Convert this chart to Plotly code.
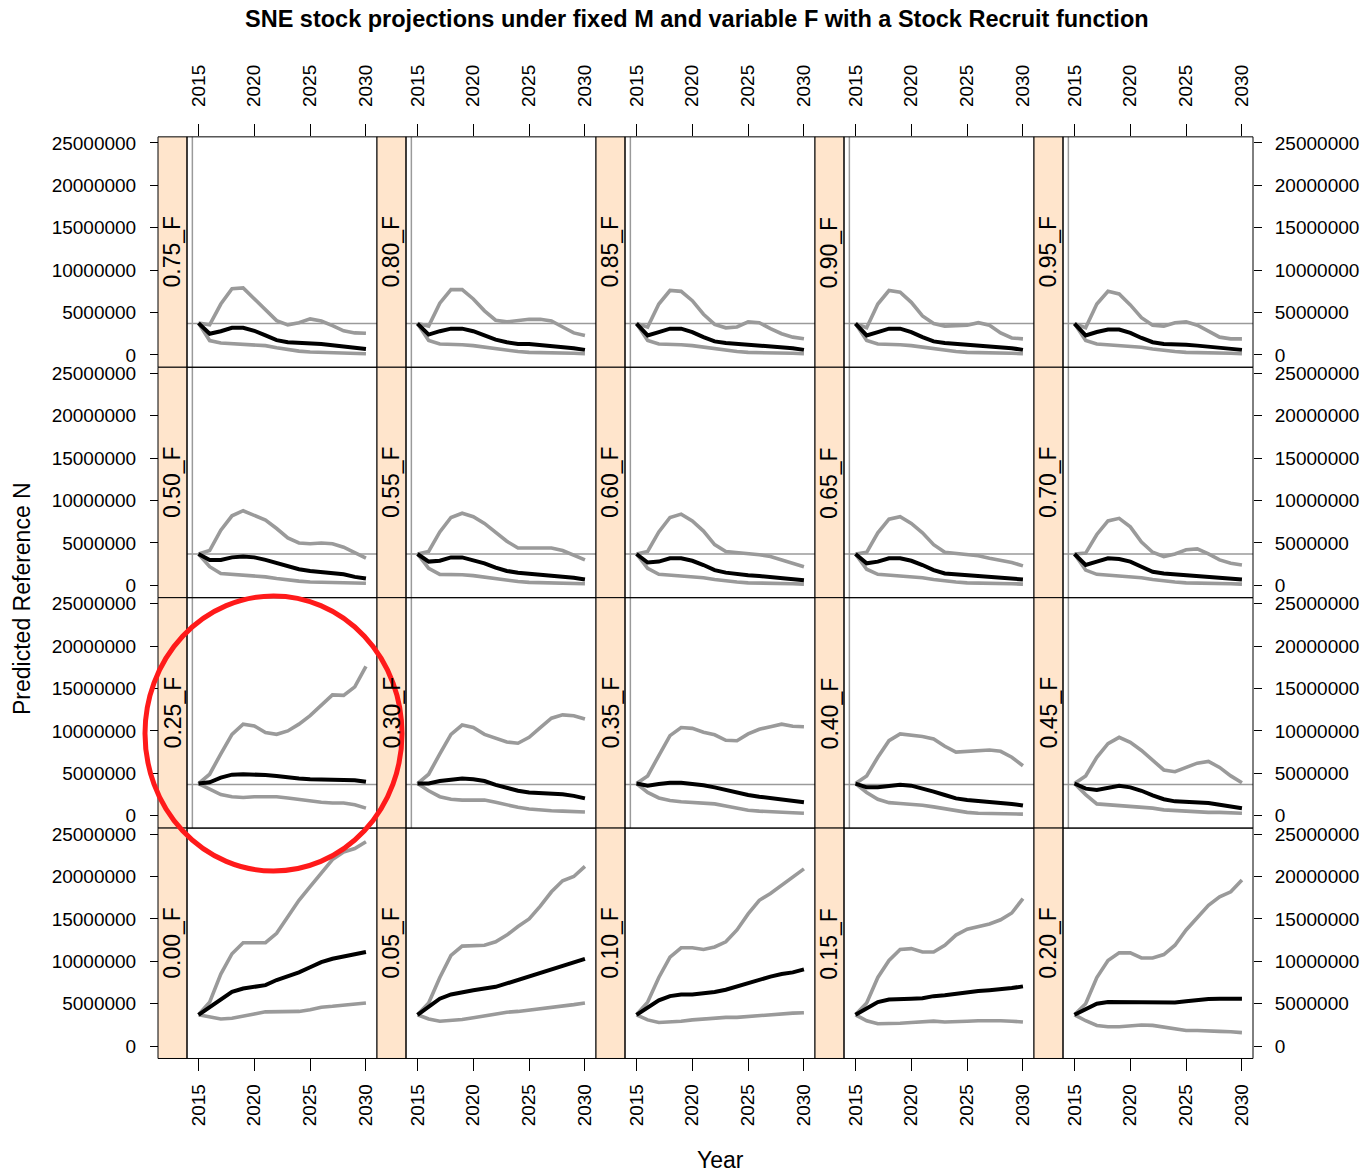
import plotly.graph_objects as go

# ---------------- data (values in millions of fish) ----------------
YEARS = list(range(2015, 2031))
SCALE = 1e6

# panel layout, top row first (lattice draws 0.00_F bottom-left)
ROW1 = ["0.75_F", "0.80_F", "0.85_F", "0.90_F", "0.95_F"]
ROW2 = ["0.50_F", "0.55_F", "0.60_F", "0.65_F", "0.70_F"]
ROW3 = ["0.25_F", "0.30_F", "0.35_F", "0.40_F", "0.45_F"]
ROW4 = ["0.00_F", "0.05_F", "0.10_F", "0.15_F", "0.20_F"]

MEDIAN = {
    "0.00_F": [3.7, 4.6, 5.6, 6.4, 6.8, 7.0, 7.2, 7.8, 8.2, 8.7, 9.3, 9.9, 10.3, 10.6, 10.8, 11.1],
    "0.05_F": [3.7, 4.7, 5.6, 6.1, 6.4, 6.6, 6.8, 7.0, 7.4, 7.8, 8.2, 8.6, 9.1, 9.5, 9.9, 10.3],
    "0.10_F": [3.7, 4.6, 5.4, 5.9, 6.1, 6.1, 6.2, 6.4, 6.65, 7.05, 7.45, 7.8, 8.2, 8.5, 8.7, 9.05],
    "0.15_F": [3.7, 4.5, 5.2, 5.5, 5.6, 5.6, 5.65, 5.9, 6.0, 6.2, 6.3, 6.5, 6.6, 6.7, 6.85, 7.05],
    "0.20_F": [3.7, 4.4, 5.0, 5.2, 5.2, 5.2, 5.15, 5.1, 5.1, 5.15, 5.3, 5.45, 5.55, 5.6, 5.6, 5.6],
    "0.25_F": [3.8, 3.95, 4.5, 4.85, 4.9, 4.9, 4.8, 4.7, 4.5, 4.4, 4.3, 4.25, 4.2, 4.2, 4.2, 4.0],
    "0.30_F": [3.8, 3.8, 4.1, 4.3, 4.4, 4.3, 4.1, 3.65, 3.25, 2.95, 2.75, 2.7, 2.65, 2.55, 2.35, 2.05],
    "0.35_F": [3.8, 3.55, 3.75, 3.9, 3.9, 3.8, 3.6, 3.35, 3.05, 2.7, 2.45, 2.25, 2.1, 1.95, 1.8, 1.6],
    "0.40_F": [3.8, 3.35, 3.35, 3.55, 3.65, 3.55, 3.25, 2.85, 2.45, 2.05, 1.85, 1.75, 1.7, 1.55, 1.4, 1.2],
    "0.45_F": [3.8, 3.2, 3.05, 3.35, 3.55, 3.35, 2.95, 2.4, 1.95, 1.7, 1.65, 1.6, 1.5, 1.3, 1.05, 0.9],
    "0.50_F": [3.7, 3.0, 3.0, 3.3, 3.4, 3.3, 3.0, 2.6, 2.2, 1.9, 1.7, 1.6, 1.5, 1.3, 1.0, 0.8],
    "0.55_F": [3.7, 2.8, 2.9, 3.3, 3.3, 3.0, 2.6, 2.1, 1.7, 1.5, 1.4, 1.3, 1.2, 1.0, 0.9, 0.7],
    "0.60_F": [3.7, 2.7, 2.8, 3.2, 3.2, 2.9, 2.4, 1.8, 1.5, 1.3, 1.2, 1.1, 1.0, 0.9, 0.8, 0.6],
    "0.65_F": [3.7, 2.6, 2.8, 3.2, 3.2, 2.9, 2.4, 1.8, 1.4, 1.3, 1.2, 1.1, 1.0, 0.9, 0.8, 0.7],
    "0.70_F": [3.7, 2.4, 2.8, 3.2, 3.1, 2.8, 2.2, 1.6, 1.4, 1.3, 1.3, 1.2, 1.1, 0.9, 0.8, 0.7],
    "0.75_F": [3.75, 2.5, 2.8, 3.2, 3.2, 2.85, 2.3, 1.75, 1.5, 1.45, 1.4, 1.3, 1.15, 1.0, 0.85, 0.7],
    "0.80_F": [3.7, 2.4, 2.8, 3.1, 3.1, 2.8, 2.3, 1.8, 1.5, 1.3, 1.3, 1.2, 1.1, 0.9, 0.8, 0.6],
    "0.85_F": [3.7, 2.3, 2.7, 3.1, 3.1, 2.7, 2.1, 1.6, 1.4, 1.3, 1.3, 1.2, 1.1, 0.9, 0.8, 0.6],
    "0.90_F": [3.7, 2.3, 2.7, 3.1, 3.1, 2.7, 2.1, 1.6, 1.4, 1.3, 1.3, 1.2, 1.1, 0.9, 0.8, 0.6],
    "0.95_F": [3.7, 2.3, 2.7, 3.0, 3.0, 2.6, 2.0, 1.5, 1.3, 1.3, 1.2, 1.1, 1.0, 0.9, 0.7, 0.6],
}

UPPER = {
    "0.00_F": [3.7, 5.2, 8.5, 10.9, 12.2, 12.2, 12.2, 13.3, 15.2, 17.2, 18.8, 20.4, 22.0, 22.9, 23.3, 24.1],
    "0.05_F": [3.7, 5.1, 8.1, 10.7, 11.8, 11.85, 11.9, 12.3, 13.1, 14.1, 15.0, 16.5, 18.2, 19.5, 20.0, 21.2],
    "0.10_F": [3.7, 5.2, 8.1, 10.5, 11.6, 11.6, 11.4, 11.7, 12.3, 13.7, 15.6, 17.2, 18.0, 19.0, 20.0, 20.9],
    "0.15_F": [3.7, 5.1, 8.1, 10.1, 11.4, 11.5, 11.1, 11.1, 11.9, 13.1, 13.8, 14.1, 14.4, 14.9, 15.7, 17.4],
    "0.20_F": [3.7, 5.0, 8.1, 10.1, 11.0, 11.0, 10.4, 10.4, 10.8, 11.9, 13.7, 15.2, 16.6, 17.6, 18.2, 19.6],
    "0.25_F": [3.8, 4.9, 7.3, 9.6, 10.8, 10.6, 9.8, 9.6, 10.0, 10.8, 11.8, 13.0, 14.25, 14.2, 15.2, 17.6],
    "0.30_F": [3.8, 4.9, 7.3, 9.6, 10.7, 10.4, 9.6, 9.1, 8.7, 8.55, 9.25, 10.4, 11.5, 11.9, 11.8, 11.4],
    "0.35_F": [3.8, 4.7, 7.1, 9.45, 10.4, 10.3, 9.85, 9.55, 8.9, 8.85, 9.65, 10.2, 10.5, 10.8, 10.55, 10.5],
    "0.40_F": [3.8, 4.7, 6.9, 8.85, 9.65, 9.55, 9.35, 9.05, 8.2, 7.5, 7.6, 7.75, 7.75, 7.6, 6.9, 5.9],
    "0.45_F": [3.8, 4.7, 6.9, 8.5, 9.25, 8.65, 7.7, 6.5, 5.4, 5.2, 5.7, 6.2, 6.4, 5.7, 4.7, 3.9],
    "0.50_F": [3.7, 4.1, 6.5, 8.2, 8.8, 8.3, 7.7, 6.7, 5.6, 5.0, 4.9, 5.0, 4.9, 4.5, 3.9, 3.2],
    "0.55_F": [3.7, 4.0, 6.3, 8.0, 8.5, 8.1, 7.3, 6.3, 5.2, 4.4, 4.4, 4.4, 4.4, 4.1, 3.6, 3.0],
    "0.60_F": [3.7, 4.0, 6.3, 8.0, 8.4, 7.6, 6.4, 4.8, 4.0, 3.9, 3.8, 3.6, 3.4, 3.0, 2.6, 2.2],
    "0.65_F": [3.7, 3.9, 6.2, 7.8, 8.1, 7.3, 6.2, 4.8, 3.9, 3.8, 3.7, 3.5, 3.2, 3.0, 2.7, 2.3],
    "0.70_F": [3.7, 3.8, 6.0, 7.6, 7.9, 6.9, 5.1, 3.9, 3.4, 3.7, 4.2, 4.3, 3.7, 3.0, 2.6, 2.4],
    "0.75_F": [3.75, 3.55, 6.0, 7.8, 7.9, 6.6, 5.25, 4.05, 3.55, 3.8, 4.25, 4.0, 3.45, 2.85, 2.6, 2.55],
    "0.80_F": [3.7, 3.4, 6.1, 7.7, 7.7, 6.6, 5.2, 4.1, 3.9, 4.1, 4.2, 4.2, 4.0, 3.3, 2.6, 2.3],
    "0.85_F": [3.7, 3.3, 6.0, 7.6, 7.5, 6.4, 4.8, 3.6, 3.2, 3.3, 3.9, 3.8, 3.1, 2.5, 2.1, 1.9],
    "0.90_F": [3.7, 3.2, 6.0, 7.6, 7.4, 6.2, 4.6, 3.7, 3.4, 3.4, 3.5, 3.8, 3.5, 2.6, 2.0, 1.9],
    "0.95_F": [3.7, 3.2, 6.0, 7.5, 7.2, 5.9, 4.4, 3.5, 3.4, 3.8, 3.9, 3.5, 2.8, 2.1, 1.9, 1.9],
}

LOWER = {
    "0.00_F": [3.7, 3.4, 3.2, 3.3, 3.5, 3.8, 4.05, 4.1, 4.05, 4.1, 4.3, 4.6, 4.7, 4.8, 5.0, 5.1],
    "0.05_F": [3.7, 3.2, 2.95, 3.0, 3.15, 3.35, 3.6, 3.8, 4.0, 4.1, 4.25, 4.4, 4.5, 4.7, 4.9, 5.1],
    "0.10_F": [3.7, 3.1, 2.8, 2.85, 2.95, 3.1, 3.2, 3.35, 3.4, 3.4, 3.5, 3.7, 3.8, 3.9, 3.9, 3.95],
    "0.15_F": [3.7, 3.0, 2.65, 2.65, 2.7, 2.8, 2.85, 2.95, 2.85, 2.85, 2.95, 3.0, 3.05, 3.0, 2.95, 2.85],
    "0.20_F": [3.7, 3.0, 2.45, 2.3, 2.3, 2.45, 2.5, 2.45, 2.25, 2.05, 1.85, 1.85, 1.85, 1.75, 1.7, 1.6],
    "0.25_F": [3.8, 3.15, 2.5, 2.25, 2.15, 2.25, 2.3, 2.25, 2.1, 1.9, 1.7, 1.6, 1.5, 1.5, 1.3, 0.9],
    "0.30_F": [3.8, 2.95, 2.25, 1.95, 1.85, 1.85, 1.85, 1.6, 1.25, 1.0, 0.8, 0.65, 0.6, 0.55, 0.5, 0.45],
    "0.35_F": [3.8, 2.75, 2.1, 1.8, 1.65, 1.6, 1.55, 1.4, 1.15, 0.85, 0.65, 0.55, 0.45, 0.45, 0.35, 0.3],
    "0.40_F": [3.8, 2.75, 1.95, 1.55, 1.45, 1.4, 1.25, 1.05, 0.8, 0.6, 0.4, 0.3, 0.3, 0.3, 0.25, 0.2],
    "0.45_F": [3.8, 2.5, 1.4, 1.3, 1.25, 1.2, 1.05, 0.9, 0.7, 0.6, 0.5, 0.45, 0.4, 0.4, 0.35, 0.3],
    "0.50_F": [3.7, 2.2, 1.4, 1.3, 1.3, 1.2, 1.0, 0.8, 0.6, 0.5, 0.4, 0.35, 0.3, 0.3, 0.3, 0.25],
    "0.55_F": [3.7, 2.0, 1.3, 1.3, 1.25, 1.15, 0.95, 0.75, 0.55, 0.45, 0.35, 0.3, 0.3, 0.25, 0.25, 0.2],
    "0.60_F": [3.7, 2.0, 1.3, 1.2, 1.2, 1.1, 0.9, 0.7, 0.5, 0.4, 0.3, 0.3, 0.25, 0.2, 0.2, 0.15],
    "0.65_F": [3.7, 1.9, 1.3, 1.2, 1.2, 1.1, 0.9, 0.7, 0.5, 0.4, 0.3, 0.3, 0.25, 0.2, 0.2, 0.15],
    "0.70_F": [3.7, 1.8, 1.3, 1.2, 1.2, 1.1, 0.9, 0.7, 0.5, 0.4, 0.3, 0.3, 0.25, 0.2, 0.2, 0.15],
    "0.75_F": [3.75, 1.7, 1.4, 1.3, 1.3, 1.2, 1.1, 0.85, 0.6, 0.45, 0.35, 0.3, 0.3, 0.25, 0.2, 0.15],
    "0.80_F": [3.7, 1.7, 1.3, 1.3, 1.2, 1.1, 0.9, 0.7, 0.5, 0.4, 0.3, 0.3, 0.25, 0.2, 0.2, 0.15],
    "0.85_F": [3.7, 1.7, 1.3, 1.3, 1.2, 1.1, 0.9, 0.7, 0.5, 0.4, 0.3, 0.3, 0.25, 0.2, 0.2, 0.15],
    "0.90_F": [3.7, 1.7, 1.3, 1.3, 1.2, 1.1, 0.9, 0.7, 0.5, 0.4, 0.3, 0.3, 0.25, 0.2, 0.2, 0.15],
    "0.95_F": [3.7, 1.7, 1.3, 1.2, 1.2, 1.1, 0.9, 0.7, 0.5, 0.4, 0.3, 0.3, 0.25, 0.2, 0.2, 0.15],
}

REF_N = 3.7            # millions, horizontal reference line
REF_YEAR = 2014.45     # vertical reference line
X_TICKS = [2015, 2020, 2025, 2030]
Y_TICKS = [0, 5000000, 10000000, 15000000, 20000000, 25000000]
Y_TICK_TEXT = ["0", "5000000", "10000000", "15000000", "20000000", "25000000"]

TITLE = "SNE stock projections under fixed M and variable F with a Stock Recruit function"

# ---------------- layout geometry (pixels) ----------------
W, H = 1365, 1175
STRIP_L0 = 158.0
COL_W = 219.0
STRIP_W = 29.0
ROW_TOP0 = 133.3
ROW_H = 231.2
X_RANGE = [2013.97, 2030.99]
Y_RANGE = [-1.45e6, 25.71e6]

GRAY = "#9a9a9a"
FONT = "Liberation Sans, Arial, sans-serif"

rows = [ROW1, ROW2, ROW3, ROW4]

fig = go.Figure()
shapes = []
annotations = []
layout_axes = {}


def px(x):
    return x / W


def py(y):
    return 1 - y / H


for r, row in enumerate(rows):
    top = ROW_TOP0 + r * ROW_H
    bot = top + ROW_H
    for c, lab in enumerate(row):
        k = r * 5 + c + 1
        sx0 = STRIP_L0 + c * COL_W
        pl = sx0 + STRIP_W
        pr = sx0 + COL_W
        xa = "x" if k == 1 else f"x{k}"
        ya = "y" if k == 1 else f"y{k}"
        xkey = "xaxis" if k == 1 else f"xaxis{k}"
        ykey = "yaxis" if k == 1 else f"yaxis{k}"

        xax = dict(domain=[px(pl), px(pr)], range=X_RANGE, anchor=ya,
                   showgrid=False, zeroline=False, showline=False,
                   tickvals=X_TICKS, ticktext=[str(v) for v in X_TICKS],
                   tickfont=dict(family=FONT, size=19, color="black"),
                   fixedrange=True)
        if r == 0:
            xax.update(side="top", ticks="outside", ticklen=12, tickcolor="black",
                       tickwidth=1, tickangle=-90, showticklabels=True,
                       ticklabelstandoff=13)
        elif r == 3:
            xax.update(side="bottom", ticks="outside", ticklen=12, tickcolor="black",
                       tickwidth=1, tickangle=-90, showticklabels=True,
                       ticklabelstandoff=5)
        else:
            xax.update(ticks="", showticklabels=False)

        yax = dict(domain=[py(bot), py(top)], range=Y_RANGE, anchor=xa,
                   showgrid=False, zeroline=False, showline=False,
                   tickvals=Y_TICKS, ticktext=Y_TICK_TEXT,
                   tickfont=dict(family=FONT, size=19, color="black"),
                   fixedrange=True)
        if c == 0:
            yax.update(side="left", anchor="free", position=px(sx0), ticks="outside",
                       ticklen=8, tickcolor="black", tickwidth=1, showticklabels=True,
                       ticklabelstandoff=10)
        elif c == 4:
            yax.update(side="right", ticks="outside", ticklen=8, tickcolor="black",
                       tickwidth=1, showticklabels=True, ticklabelstandoff=9)
        else:
            yax.update(ticks="", showticklabels=False)

        layout_axes[xkey] = xax
        layout_axes[ykey] = yax

        # reference lines
        shapes.append(dict(type="line", xref=xa, yref=f"{ya} domain", x0=REF_YEAR, x1=REF_YEAR,
                           y0=0, y1=1, line=dict(color=GRAY, width=1.5), layer="below"))
        shapes.append(dict(type="line", xref=f"{xa} domain", yref=ya, x0=0, x1=1,
                           y0=REF_N * SCALE, y1=REF_N * SCALE,
                           line=dict(color=GRAY, width=1.5), layer="below"))

        # series
        for series, color, wdt in ((LOWER, GRAY, 3.6), (UPPER, GRAY, 3.6), (MEDIAN, "black", 4)):
            fig.add_trace(go.Scatter(
                x=YEARS, y=[v * SCALE for v in series[lab]], mode="lines",
                line=dict(color=color, width=wdt), xaxis=xa, yaxis=ya,
                showlegend=False, hoverinfo="skip"))

        # strip
        shapes.append(dict(type="rect", xref="paper", yref="paper",
                           x0=px(sx0), x1=px(pl), y0=py(bot), y1=py(top),
                           fillcolor="#ffe5cc", line=dict(color="black", width=1), layer="above"))
        annotations.append(dict(text=lab, xref="paper", yref="paper",
                                x=px(sx0 + STRIP_W / 2), y=py((top + bot) / 2),
                                showarrow=False, textangle=-90,
                                font=dict(family=FONT, size=23, color="black"),
                                xanchor="center", yanchor="middle"))
        # panel border
        shapes.append(dict(type="rect", xref="paper", yref="paper",
                           x0=px(pl), x1=px(pr), y0=py(bot), y1=py(top),
                           line=dict(color="black", width=1), layer="above"))

# red highlight ellipse
shapes.append(dict(type="circle", xref="paper", yref="paper",
                   x0=px(145), x1=px(402), y0=py(870), y1=py(594),
                   line=dict(color="#ff1a1a", width=5), layer="above"))

annotations.append(dict(text=f"<b>{TITLE}</b>", xref="paper", yref="paper",
                        x=px(697), y=py(15), showarrow=False,
                        font=dict(family=FONT, size=23.5, color="black"),
                        xanchor="center", yanchor="middle"))
annotations.append(dict(text="Predicted Reference N", xref="paper", yref="paper",
                        x=px(22), y=py(597), showarrow=False, textangle=-90,
                        font=dict(family=FONT, size=23, color="black"),
                        xanchor="center", yanchor="middle"))
annotations.append(dict(text="Year", xref="paper", yref="paper",
                        x=px(720), y=py(1160), showarrow=False,
                        font=dict(family=FONT, size=23, color="black"),
                        xanchor="center", yanchor="middle"))

fig.update_layout(width=W, height=H, margin=dict(l=0, r=0, t=0, b=0),
                  paper_bgcolor="white", plot_bgcolor="white",
                  shapes=shapes, annotations=annotations, **layout_axes)

fig.write_html("out.html")
